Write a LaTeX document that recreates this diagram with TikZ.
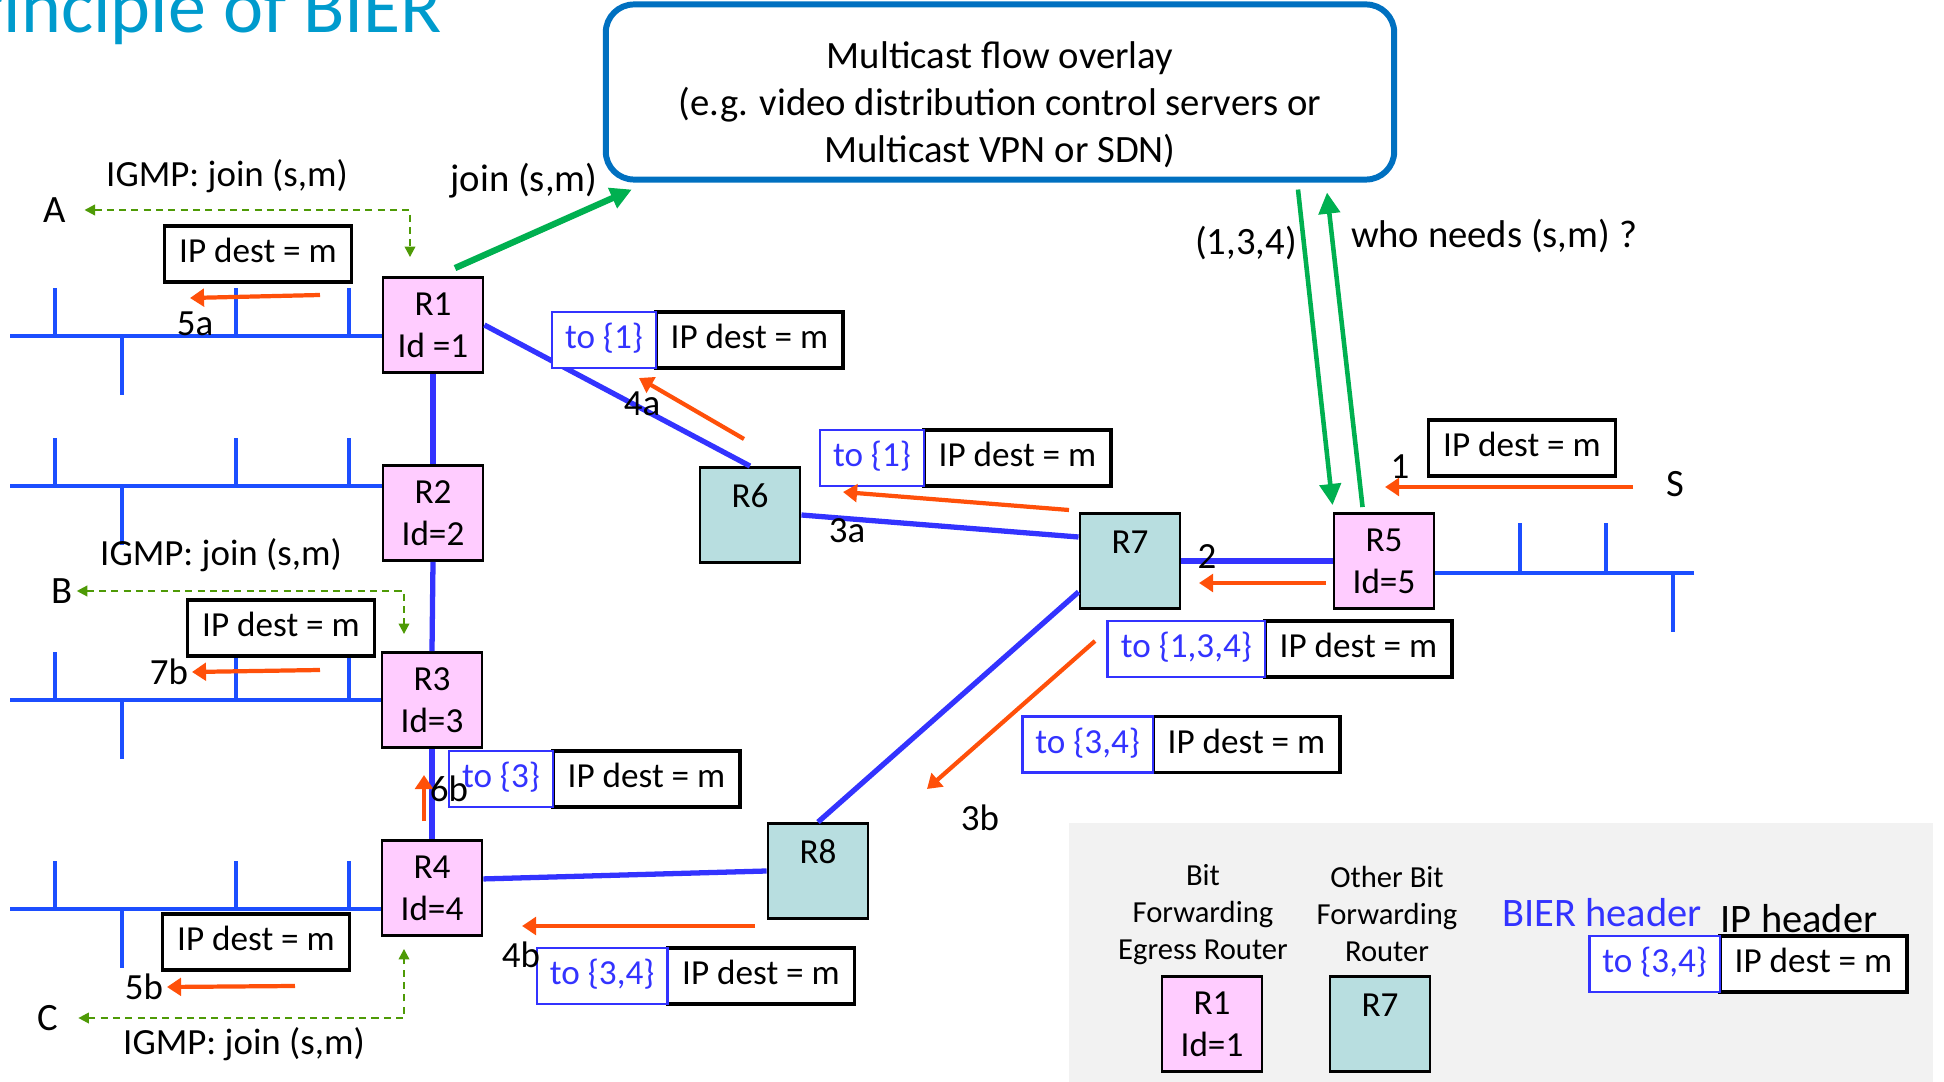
\documentclass[tikz,border=0pt]{standalone}
\usepackage{fontspec}
\setmainfont{Carlito}
\usetikzlibrary{arrows.meta,positioning,calc}
\definecolor{bferpink}{RGB}{255,204,255}
\definecolor{bfrteal}{RGB}{184,222,224}
\definecolor{linkblue}{RGB}{51,51,255}
\definecolor{lanblue}{RGB}{28,78,255}
\definecolor{flowred}{RGB}{255,80,10}
\definecolor{ctrlgreen}{RGB}{0,176,80}
\definecolor{igmpgreen}{RGB}{78,154,6}
\definecolor{overlayblue}{RGB}{0,112,192}
\definecolor{hdrblue}{RGB}{51,51,255}
\definecolor{titleblue}{RGB}{0,155,205}
\definecolor{legendgray}{RGB}{242,242,242}

\begin{document}
\begin{tikzpicture}[x=0.01cm,y=-0.01cm,
    every node/.style={font=\fontsize{10}{12}\selectfont},
    bfer/.style={draw,line width=0.8pt,fill=bferpink,minimum width=1cm,minimum height=0.95cm,inner sep=0pt,align=center},
    bfr/.style={draw,line width=0.8pt,fill=bfrteal,minimum width=1cm,minimum height=0.95cm,inner xsep=0pt,inner ysep=0.05cm,text height=0.35cm,text depth=0.5cm},
    ipbox/.style={draw,line width=0.9pt,fill=white,outer sep=0pt,minimum width=1.87cm,minimum height=0.56cm,inner xsep=0pt,text height=7pt,text depth=2pt},
    bierhdr/.style={draw=hdrblue,text=hdrblue,line width=0.8pt,fill=white,outer sep=0pt,minimum height=0.56cm,inner xsep=0.13cm,text height=7pt,text depth=2pt},
    rlink/.style={linkblue,line width=1.5pt},
    lan/.style={lanblue,line width=1.4pt},
    flow/.style={->,>={Triangle[length=4pt,width=5pt]},flowred,line width=1.2pt},
    ctrl/.style={->,>={Triangle[length=6pt,width=6pt]},ctrlgreen,line width=1.3pt},
    igmp/.style={<->,>={Triangle[length=3pt,width=3pt]},igmpgreen,line width=0.6pt,dash pattern=on 2pt off 1.5pt},
    tag/.style={inner sep=1pt,font=\fontsize{11}{13}\selectfont},
    num/.style={inner sep=1pt,font=\fontsize{10.5}{12}\selectfont}
]
\useasboundingbox (0,0) rectangle (1944,1082);

% legend background
\fill[legendgray] (1069,823) rectangle (1933,1082);

% title, cut by the page edge
\node[anchor=base east,inner sep=0pt,text=titleblue,font=\fontsize{21.6}{26}\selectfont] (title) at (443,33) {Principle of BIER};

% overlay
\node[draw=overlayblue,line width=1.7pt,rounded corners=8pt,minimum width=7.88cm,minimum height=1.64cm,align=center,font=\fontsize{11}{13.3}\selectfont] (overlay) at (1000,92)
    {\rule{0pt}{15pt}Multicast flow overlay\\(e.g. video distribution control servers or\\Multicast VPN or SDN)};

% routers
\node[bfer] (R1) at (433,325) {R1\\Id =1};
\node[bfer] (R2) at (433,513) {R2\\Id=2};
\node[bfer] (R3) at (432,700) {R3\\Id=3};
\node[bfer] (R4) at (432,888) {R4\\Id=4};
\node[bfer] (R5) at (1384,561) {R5\\Id=5};
\node[bfr] (R6) at (750,515) {R6};
\node[bfr] (R7) at (1130,561) {R7};
\node[bfr] (R8) at (818,871) {R8};

% links
\draw[rlink] (R1.east) -- (R6.north);
\draw[rlink] (R1.south) -- (R2.north);
\draw[rlink] (R2.south) -- (R3.north);
\draw[rlink] (R3.south) -- (R4.north);
\draw[rlink] (R6.east) -- (R7.155);
\draw[rlink] (R7.211) -- (R8.north);
\draw[rlink] (R4.10) -- (R8.west);
\draw[rlink] (R7.east) -- (R5.west);

% LANs
\foreach \r/\y in {R1/336,R2/486,R3/700,R4/909}{
    \coordinate (lanY) at (0,\y);
    \draw[lan] (10,\y) -- (\r.west |- lanY);
    \foreach \x in {55,236,349} \draw[lan] (\x,\y) -- (\x,\y-48);
    \draw[lan] (122,\y) -- (122,\y+59);
}
\coordinate (lan5) at (1694,573);
\draw[lan] (lan5) -- (lan5 -| R5.east);
\draw[lan] (1520,573) -- (1520,523);
\draw[lan] (1606,573) -- (1606,523);
\draw[lan] (1673,573) -- (1673,632);

% plain IP packets
\node[ipbox] (ipA) at (258,254) {IP dest = m};
\node[ipbox] (ipB) at (281,628) {IP dest = m};
\node[ipbox] (ipC) at (256,942) {IP dest = m};
\node[ipbox] (ipS) at (1522,448) {IP dest = m};

% BIER packets
\node[ipbox] (ip4a) at (749.5,340) {IP dest = m};
\node[bierhdr,left=0pt of ip4a] (bh4a) {to \{1\}};
\node[ipbox] (ip3a) at (1017.5,458) {IP dest = m};
\node[bierhdr,left=0pt of ip3a] (bh3a) {to \{1\}};
\node[ipbox] (ip2) at (1358.5,649) {IP dest = m};
\node[bierhdr,left=0pt of ip2] (bh2) {to \{1,3,4\}};
\node[ipbox] (ip3b) at (1246.5,744.5) {IP dest = m};
\node[bierhdr,left=0pt of ip3b] (bh3b) {to \{3,4\}};
\node[ipbox] (ip6b) at (646.5,779) {IP dest = m};
\node[bierhdr,left=0pt of ip6b] (bh6b) {to \{3\}};
\node[ipbox] (ip4b) at (761,976) {IP dest = m};
\node[bierhdr,left=0pt of ip4b] (bh4b) {to \{3,4\}};

% control plane
\draw[ctrl,line width=1.8pt] ($(R1.north)+(22,-8)$) -- ($(overlay.south west)+(29,7)$);
\node[tag] (joinlbl) at (524,181) {join (s,m)};
\draw[ctrl] ($(overlay.south)+(298,7)$) -- ($(R5.north west)+(0,-7)$);
\draw[ctrl] ($(R5.north west)+(30,-5)$) -- ($(overlay.south)+(327,10)$);
\node[tag] (reply) at (1246,243) {(1,3,4)};
\node[tag] (query) at (1494,236) {who needs (s,m) ?};

% receivers and IGMP
\node[tag] (A) at (55,210) {A};
\node[tag] (B) at (62,591) {B};
\node[tag] (C) at (48,1018) {C};
\node[tag] (S) at (1675,484) {S};
\node[tag,font=\fontsize{10.5}{12}\selectfont] (igmpA) at (227,176) {IGMP: join (s,m)};
\node[tag,font=\fontsize{10.5}{12}\selectfont] (igmpB) at (221,555) {IGMP: join (s,m)};
\node[tag,font=\fontsize{10.5}{12}\selectfont] (igmpC) at (244,1044) {IGMP: join (s,m)};
\coordinate (jA) at ($(R1.north)+(-23,-19)$);
\coordinate (jB) at ($(R3.north)+(-28,-17)$);
\coordinate (jC) at ($(R4.south)+(-28,12)$);
\draw[igmp,shorten <=4pt] (A.east) -| (jA);
\draw[igmp] (B.east) -| (jB);
\draw[igmp,shorten <=4.5pt] (C.east) -| (jC);

% packet flow
\coordinate (f1s) at (1633,487); \coordinate (f1e) at (1385,487);
\coordinate (f2s) at (1326,583); \coordinate (f2e) at (1199,583);
\coordinate (f3as) at (1069,510); \coordinate (f3ae) at (843,492);
\coordinate (f3bs) at (1095,641); \coordinate (f3be) at (927,789);
\coordinate (f4as) at (744,439); \coordinate (f4ae) at (639,378);
\coordinate (f4bs) at (755,926); \coordinate (f4be) at (522,926);
\coordinate (f5as) at (320,295); \coordinate (f5ae) at (190,298);
\coordinate (f5bs) at (295,986); \coordinate (f5be) at (167,987);
\coordinate (f6bs) at (424,821); \coordinate (f6be) at (424,775);
\coordinate (f7bs) at (320,670); \coordinate (f7be) at (192,672);
\foreach \f in {1,2,3a,3b,4a,4b,5a,5b,6b,7b}
    \draw[flow] (f\f s) -- (f\f e);
\node[num] (n1) at (1400,467) {1};
\node[num] (n2) at (1207,557) {2};
\node[num] (n3a) at (847,531) {3a};
\node[num] (n3b) at (980,818) {3b};
\node[num] (n4a) at (642,404) {4a};
\node[num] (n4b) at (521,955) {4b};
\node[num] (n5a) at (195,324) {5a};
\node[num] (n5b) at (144,987) {5b};
\node[num] (n6b) at (449,789) {6b};
\node[num] (n7b) at (169,672) {7b};

% legend
\node[align=center,font=\fontsize{8.7}{10.5}\selectfont] (keyBFER) at (1203,915) {Bit\\Forwarding\\Egress Router};
\node[align=center,font=\fontsize{8.7}{10.5}\selectfont] (keyBFR) at (1387,914) {Other Bit\\Forwarding\\Router};
\node[bfer] (keyR1) at (1212,1024) {R1\\Id=1};
\node[bfr] (keyR7) at (1380,1024) {R7};
\node[text=hdrblue,font=\fontsize{11.5}{14}\selectfont] (keyBIER) at (1602,913) {BIER header};
\node[font=\fontsize{11.5}{14}\selectfont] (keyIP) at (1799,919) {IP header};
\node[ipbox] (keyip) at (1813.5,964) {IP dest = m};
\node[bierhdr,left=0pt of keyip] (keyhdr) {to \{3,4\}};
\end{tikzpicture}
\end{document}
